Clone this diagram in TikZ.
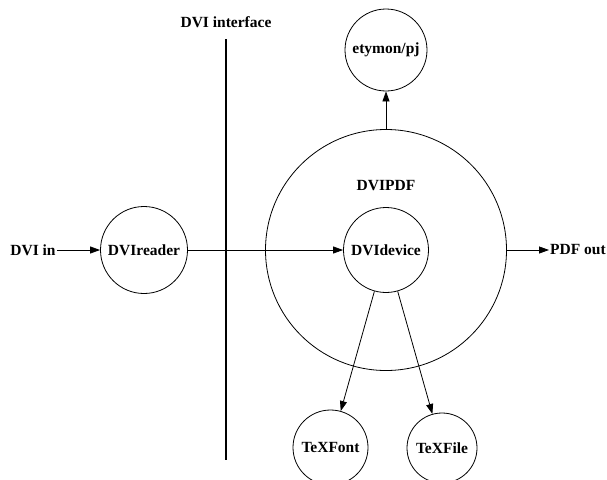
\documentclass[tikz,border=0pt]{standalone}
\usepackage{fontspec}
\setmainfont{Liberation Serif}
\usetikzlibrary{arrows.meta}
\begin{document}
\begin{tikzpicture}[x=1pt,y=-1pt,
  every node/.style={font=\fontsize{15.5}{18}\selectfont\bfseries},
  proc/.style={draw,circle,line width=0.8pt,inner sep=0pt},
  lbl/.style={inner sep=1pt},
  conn/.style={line width=0.8pt,-{Triangle[length=10pt,width=7pt]}}]
\useasboundingbox (0,0) rectangle (607,479);
\node[lbl] (in) at (33,250) {DVI in};
\node[proc,minimum size=87pt] (reader) at (144,250) {DVIreader};
\coordinate (itop) at (226,39);
\coordinate (ibot) at (226,460);
\draw[line width=2.5pt] (itop) -- (ibot);
\node[lbl] (iface) at (226,22) {DVI interface};
\node[proc,minimum size=241pt] (pdf) at (386,250) {};
\node[lbl] (pdflbl) at (386,186) {DVIPDF};
\node[proc,minimum size=85pt] (dev) at (386,250) {DVIdevice};
\node[proc,minimum size=82pt] (ety) at (386,50) {etymon/pj};
\node[proc,minimum size=75pt] (font) at (330.5,447.5) {TeXFont};
\node[proc,minimum size=70pt] (file) at (442,448) {TeXFile};
\node[lbl,anchor=west] (out) at (549,250) {PDF out};
\draw[conn] (in) -- (reader);
\draw[conn] (reader) -- (dev);
\draw[conn] (pdf.north) -- (ety);
\draw[conn] (pdf.east) -- (out);
\draw[conn] (dev) -- (font);
\draw[conn] (dev) -- (file);
\end{tikzpicture}
\end{document}
